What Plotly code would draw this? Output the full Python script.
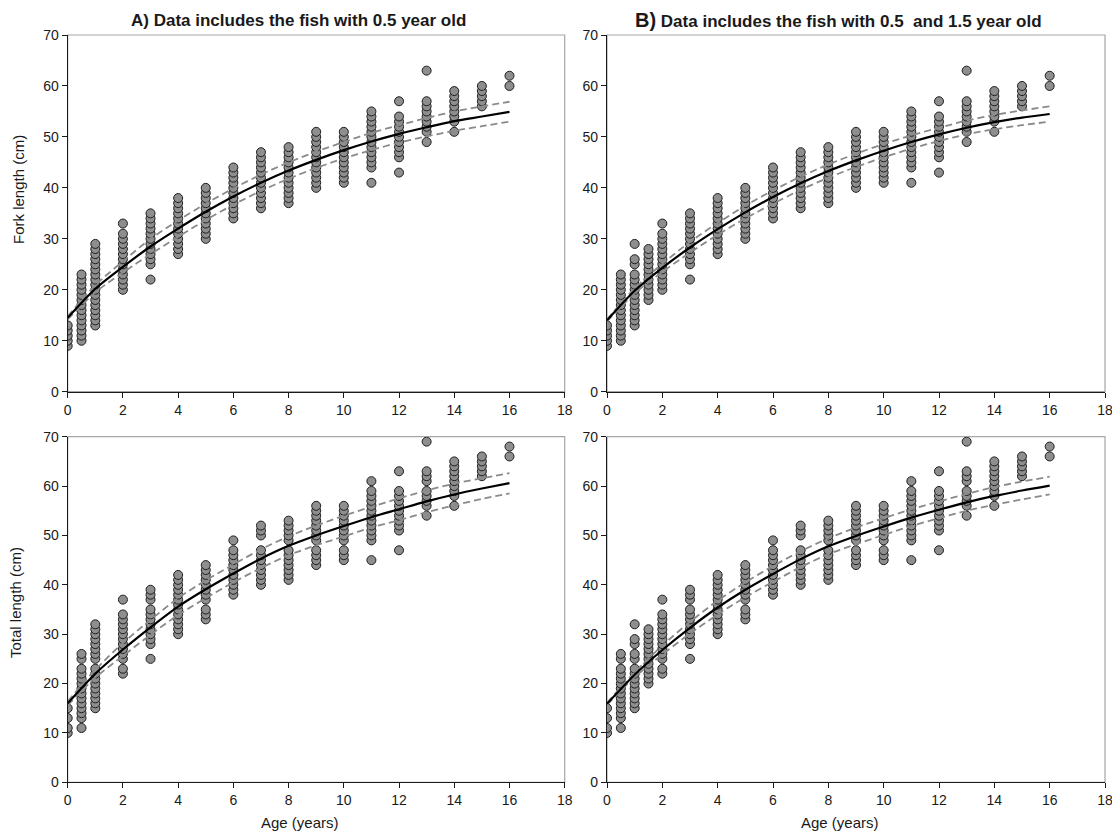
import plotly.graph_objects as go

# ---------------- data ----------------
fork_ages_A = [0, 0.5, 1, 2, 3, 4, 5, 6, 7, 8, 9, 10, 11, 12, 13, 14, 15, 16]
fork_lengths_A = [
    [9, 10, 11, 12, 13],
    [10, 11, 12, 13, 14, 15, 16, 17, 18, 19, 20, 21, 22, 23],
    [13, 14, 15, 16, 17, 18, 19, 20, 21, 22, 23, 24, 25, 26, 27, 28, 29],
    [20, 21, 22, 23, 24, 25, 26, 27, 28, 29, 30, 31, 33],
    [22, 25, 26, 27, 28, 29, 30, 31, 32, 33, 34, 35],
    [27, 28, 29, 30, 31, 32, 33, 34, 35, 36, 37, 38],
    [30, 31, 32, 33, 34, 35, 36, 37, 38, 39, 40],
    [34, 35, 36, 37, 38, 39, 40, 41, 42, 43, 44],
    [36, 37, 38, 39, 40, 41, 42, 43, 44, 45, 46, 47],
    [37, 38, 39, 40, 41, 42, 43, 44, 45, 46, 47, 48],
    [40, 41, 42, 43, 44, 45, 46, 47, 48, 49, 50, 51],
    [41, 42, 43, 44, 45, 46, 47, 48, 49, 50, 51],
    [41, 44, 45, 46, 47, 48, 49, 50, 51, 52, 53, 54, 55],
    [43, 46, 47, 48, 49, 50, 51, 52, 53, 54, 57],
    [49, 51, 52, 53, 54, 55, 56, 57, 63],
    [51, 53, 54, 55, 56, 57, 58, 59],
    [56, 57, 58, 59, 60],
    [60, 62],
]

fork_ages_B = [0, 0.5, 1, 1.5, 2, 3, 4, 5, 6, 7, 8, 9, 10, 11, 12, 13, 14, 15, 16]
fork_age1_B = [13, 14, 15, 16, 17, 18, 19, 20, 21, 22, 23, 25, 26, 29]
fork_age15_B = [18, 19, 20, 21, 22, 23, 24, 25, 26, 27, 28]
fork_lengths_B = fork_lengths_A[:2] + [fork_age1_B, fork_age15_B] + fork_lengths_A[3:]

total_ages_C = [0, 0.5, 1, 2, 3, 4, 5, 6, 7, 8, 9, 10, 11, 12, 13, 14, 15, 16]
total_lengths_C = [
    [10, 11, 13, 15],
    [11, 13, 14, 15, 16, 17, 18, 19, 20, 21, 22, 23, 25, 26],
    [15, 16, 17, 18, 19, 20, 21, 22, 23, 25, 26, 27, 28, 29, 30, 31, 32],
    [22, 23, 25, 26, 27, 28, 29, 30, 31, 32, 33, 34, 37],
    [25, 28, 29, 30, 31, 32, 33, 34, 35, 37, 38, 39],
    [30, 31, 32, 33, 34, 35, 36, 37, 38, 39, 40, 41, 42],
    [33, 34, 35, 37, 38, 39, 40, 41, 42, 43, 44],
    [38, 39, 40, 41, 42, 43, 44, 45, 46, 47, 49],
    [40, 41, 42, 43, 44, 45, 46, 47, 50, 51, 52],
    [41, 42, 43, 44, 45, 46, 47, 49, 50, 51, 52, 53],
    [44, 45, 46, 47, 49, 50, 51, 52, 53, 54, 55, 56],
    [45, 46, 47, 49, 50, 51, 52, 53, 54, 55, 56],
    [45, 49, 50, 51, 52, 53, 54, 55, 56, 57, 58, 59, 61],
    [47, 51, 52, 53, 54, 55, 56, 57, 58, 59, 63],
    [54, 56, 57, 58, 59, 61, 62, 63, 69],
    [56, 58, 59, 60, 61, 62, 63, 64, 65],
    [62, 63, 64, 65, 66],
    [66, 68],
]

total_ages_D = [0, 0.5, 1, 1.5, 2, 3, 4, 5, 6, 7, 8, 9, 10, 11, 12, 13, 14, 15, 16]
total_age1_D = [15, 16, 17, 18, 19, 20, 21, 22, 23, 25, 26, 28, 29, 32]
total_age15_D = [20, 21, 22, 23, 24, 25, 26, 27, 28, 29, 30, 31]
total_lengths_D = total_lengths_C[:2] + [total_age1_D, total_age15_D] + total_lengths_C[3:]

fit_ages = [0, 1, 2, 3, 4, 5, 6, 7, 8, 9, 10, 11, 12, 13, 14, 15, 16]
fit_A = [14.5, 20.2, 24.5, 28.5, 32.0, 35.3, 38.3, 41.0, 43.4, 45.5, 47.4, 49.1, 50.6, 51.9, 53.1, 54.0, 54.9]
upper_A = [14.8, 20.9, 25.6, 30.0, 33.6, 36.9, 39.9, 42.6, 45.0, 47.1, 49.0, 50.8, 52.3, 53.7, 55.0, 56.0, 56.9]
lower_A = [14.2, 19.5, 23.4, 27.0, 30.4, 33.7, 36.7, 39.4, 41.8, 43.9, 45.8, 47.4, 48.9, 50.1, 51.2, 52.1, 53.0]
fit_B = [14.0, 19.8, 24.3, 28.3, 31.9, 35.2, 38.2, 40.9, 43.3, 45.4, 47.3, 49.0, 50.5, 51.8, 52.9, 53.8, 54.5]
upper_B = [14.2, 20.3, 25.1, 29.4, 33.1, 36.5, 39.5, 42.2, 44.6, 46.7, 48.6, 50.3, 51.8, 53.2, 54.3, 55.2, 56.0]
lower_B = [13.8, 19.3, 23.5, 27.3, 30.8, 34.0, 36.9, 39.6, 42.0, 44.1, 46.0, 47.7, 49.2, 50.5, 51.5, 52.3, 53.0]
fit_C = [16.0, 22.0, 26.9, 31.4, 35.6, 39.1, 42.3, 45.3, 47.9, 50.0, 51.9, 53.7, 55.3, 56.9, 58.3, 59.5, 60.6]
upper_C = [16.4, 22.8, 28.2, 32.9, 37.3, 40.9, 44.1, 47.2, 49.8, 52.0, 54.0, 55.8, 57.5, 59.1, 60.5, 61.6, 62.6]
lower_C = [15.6, 21.2, 25.6, 29.9, 33.9, 37.3, 40.5, 43.4, 46.0, 48.0, 49.8, 51.6, 53.1, 54.7, 56.1, 57.4, 58.5]
fit_D = [15.9, 21.8, 26.8, 31.3, 35.4, 39.0, 42.2, 45.2, 47.8, 49.9, 51.8, 53.6, 55.2, 56.7, 58.0, 59.1, 60.1]
upper_D = [16.1, 22.3, 27.7, 32.5, 36.8, 40.5, 43.8, 46.8, 49.4, 51.6, 53.5, 55.3, 56.9, 58.4, 59.8, 60.9, 61.9]
lower_D = [15.7, 21.3, 25.9, 30.1, 34.0, 37.5, 40.6, 43.6, 46.2, 48.2, 50.1, 51.9, 53.5, 55.0, 56.2, 57.3, 58.3]

x_ticks = [0, 2, 4, 6, 8, 10, 12, 14, 16, 18]
y_ticks = [0, 10, 20, 30, 40, 50, 60, 70]

title_A = "A) Data includes the fish with 0.5 year old"
title_B = "<span style='font-size:20px'>B)</span> Data includes the fish with 0.5  and 1.5 year old"
ylabel_top = "Fork length (cm)"
ylabel_bot = "Total length (cm)"
xlabel = "Age (years)"

# ---------------- layout geometry (reference pixels; page body adds an 8px offset) ----------------
OFF = 8
W, H = 1112, 823


def px_x(v):
    return (v - OFF) / W


def px_y(v):
    return 1 - (v - OFF) / H


left_dom = [px_x(67.7), px_x(564.7)]
right_dom = [px_x(607.0), px_x(1105.0)]
top_dom = [px_y(391.7), px_y(35.0)]
bot_dom = [px_y(782.3), px_y(436.7)]

panels = [
    ("x", "y", left_dom, top_dom, fork_ages_A, fork_lengths_A, fit_A, upper_A, lower_A),
    ("x2", "y2", right_dom, top_dom, fork_ages_B, fork_lengths_B, fit_B, upper_B, lower_B),
    ("x3", "y3", left_dom, bot_dom, total_ages_C, total_lengths_C, fit_C, upper_C, lower_C),
    ("x4", "y4", right_dom, bot_dom, total_ages_D, total_lengths_D, fit_D, upper_D, lower_D),
]

fig = go.Figure()
FONT = "Liberation Sans, Arial, sans-serif"
font = dict(family=FONT, size=14, color="#1a1a1a")
layout = dict(
    width=W, height=H,
    margin=dict(l=0, r=0, t=0, b=0),
    paper_bgcolor="white", plot_bgcolor="white",
    showlegend=False, font=font,
)
shapes = []
for i, (xa, ya, xd, yd, ages, lengths, fit, up, lo) in enumerate(panels):
    xs, ys = [], []
    for a, ls in zip(ages, lengths):
        for v in ls:
            xs.append(a)
            ys.append(v)
    fig.add_trace(go.Scatter(
        x=xs, y=ys, mode="markers", xaxis=xa, yaxis=ya,
        marker=dict(size=9, color="#8e8e8e", line=dict(color="#1e1e1e", width=1)),
        hoverinfo="x+y"))
    for ci in (up, lo):
        fig.add_trace(go.Scatter(
            x=fit_ages, y=ci, mode="lines", xaxis=xa, yaxis=ya,
            line=dict(color="#8a8a8a", width=1.8, dash="7px,4px", shape="spline", smoothing=0.8)))
    fig.add_trace(go.Scatter(
        x=fit_ages, y=fit, mode="lines", xaxis=xa, yaxis=ya,
        line=dict(color="#000000", width=2.2, shape="spline", smoothing=0.8)))

    suffix = "" if i == 0 else str(i + 1)
    common = dict(showgrid=False, zeroline=False, showline=True, linecolor="#1a1a1a", linewidth=1.2,
                  ticks="outside", ticklen=5, tickcolor="#1a1a1a", tickwidth=1,
                  tickfont=dict(size=14, color="#1a1a1a"), automargin=False, fixedrange=True)
    layout["xaxis" + suffix] = dict(domain=xd, anchor=ya, range=[0, 18], tickvals=x_ticks, **common)
    layout["yaxis" + suffix] = dict(domain=yd, anchor=xa, range=[0, 70], tickvals=y_ticks, **common)
    shapes.append(dict(type="rect", xref="paper", yref="paper",
                       x0=xd[0], x1=xd[1], y0=yd[0], y1=yd[1],
                       line=dict(color="#a6a6a6", width=1.2), layer="below"))

layout["shapes"] = shapes
title_font = dict(family=FONT, size=17, color="#1a1a1a")
label_font = dict(family=FONT, size=15, color="#1a1a1a")
annotations = [
    dict(text="<b>" + title_A + "</b>", x=px_x(298), y=px_y(20),
         xref="paper", yref="paper", showarrow=False, font=title_font, xanchor="center", yanchor="middle"),
    dict(text="<b>" + title_B + "</b>", x=px_x(838), y=px_y(20),
         xref="paper", yref="paper", showarrow=False, font=title_font, xanchor="center", yanchor="middle"),
    dict(text=ylabel_top, x=px_x(18), y=px_y(190), textangle=-90,
         xref="paper", yref="paper", showarrow=False, font=label_font, xanchor="center", yanchor="middle"),
    dict(text=ylabel_bot, x=px_x(15), y=px_y(603), textangle=-90,
         xref="paper", yref="paper", showarrow=False, font=label_font, xanchor="center", yanchor="middle"),
    dict(text=xlabel, x=px_x(300), y=px_y(822),
         xref="paper", yref="paper", showarrow=False, font=label_font, xanchor="center", yanchor="middle"),
    dict(text=xlabel, x=px_x(840), y=px_y(822),
         xref="paper", yref="paper", showarrow=False, font=label_font, xanchor="center", yanchor="middle"),
]
layout["annotations"] = annotations
fig.update_layout(**layout)
fig.write_html("out.html")
